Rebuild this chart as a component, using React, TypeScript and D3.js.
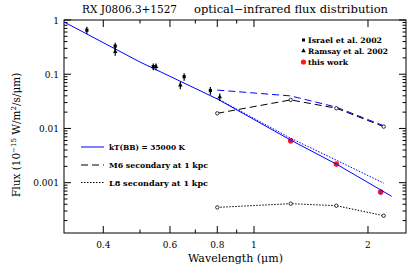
import { useEffect, useRef } from "react";
import * as d3 from "d3";

// Israel et al. 2002 (squares)
const israelLam = [0.362, 0.43, 0.542, 0.654, 0.767];
const israelFlux = [0.65, 0.33, 0.138, 0.09, 0.05];
const israelErr = [0.1, 0.05, 0.02, 0.014, 0.008];
// Ramsay et al. 2002 (triangles)
const ramsayLam = [0.43, 0.551, 0.639, 0.812];
const ramsayFlux = [0.26, 0.138, 0.063, 0.038];
const ramsayErr = [0.04, 0.02, 0.01, 0.006];
// this work
const workLam = [1.25, 1.65, 2.16];
const workFlux = [0.0059, 0.0022, 0.00067];
// blackbody kT = 35000 K
const bbLam = [0.315, 0.5, 0.8, 1.25, 1.65, 2.31];
const bbFlux = [0.92, 0.168, 0.035, 0.0061, 0.0022, 0.00056];
// secondary models at 1 kpc
const modelLam = [0.8, 1.25, 1.65, 2.2];
const m6Flux = [0.019, 0.0336, 0.0236, 0.0108];
const l8Flux = [0.00035, 0.00041, 0.000376, 0.000246];
const bbM6Flux = [0.051, 0.0398, 0.0247, 0.0112];
const bbL8Flux = [0.0355, 0.0066, 0.0026, 0.00098];

const xMajor = [0.4, 0.6, 0.8, 1, 2];
const xMinor = [0.5, 0.7, 0.9];
const yMajor = [1, 0.1, 0.01, 0.001];
const yLabels = ["1", "0.1", "0.01", "0.001"];

const FONT = "'DejaVu Serif', serif";

export default function App() {
  const ref = useRef<SVGSVGElement>(null);

  useEffect(() => {
    const svg = d3.select(ref.current);
    svg.selectAll("*").remove();

    const L = 64, R = 406, T = 20, B = 233;
    const x = d3.scaleLog().domain([0.315, 2.52]).range([L, R]);
    const y = d3.scaleLog().domain([1.18e-4, 1]).range([B, T]);

    // frame
    svg.append("rect").attr("x", L).attr("y", T).attr("width", R - L).attr("height", B - T)
      .attr("fill", "none").attr("stroke", "#000").attr("stroke-width", 1);

    // x ticks (bottom + top)
    const g = svg.append("g").attr("stroke", "#000").attr("stroke-width", 1);
    xMajor.forEach(v => {
      g.append("line").attr("x1", x(v)).attr("x2", x(v)).attr("y1", B).attr("y2", B - 7);
      g.append("line").attr("x1", x(v)).attr("x2", x(v)).attr("y1", T).attr("y2", T + 7);
    });
    xMinor.forEach(v => {
      g.append("line").attr("x1", x(v)).attr("x2", x(v)).attr("y1", B).attr("y2", B - 3.5);
      g.append("line").attr("x1", x(v)).attr("x2", x(v)).attr("y1", T).attr("y2", T + 3.5);
    });
    svg.selectAll(".xlab").data(xMajor).join("text")
      .attr("x", d => x(d)).attr("y", 248).attr("text-anchor", "middle")
      .attr("font-family", FONT).attr("font-size", 9).text(d => String(d));

    // y ticks (left + right)
    const yMinor: number[] = [];
    [1e-4, 1e-3, 1e-2, 1e-1].forEach(dec => {
      for (let k = 2; k <= 9; k++) if (dec * k >= 1.18e-4) yMinor.push(dec * k);
    });
    yMajor.forEach(v => {
      g.append("line").attr("x1", L).attr("x2", L + 7).attr("y1", y(v)).attr("y2", y(v));
      g.append("line").attr("x1", R).attr("x2", R - 7).attr("y1", y(v)).attr("y2", y(v));
    });
    yMinor.forEach(v => {
      g.append("line").attr("x1", L).attr("x2", L + 3.5).attr("y1", y(v)).attr("y2", y(v));
      g.append("line").attr("x1", R).attr("x2", R - 3.5).attr("y1", y(v)).attr("y2", y(v));
    });
    svg.selectAll(".ylab").data(yMajor).join("text")
      .attr("x", 59).attr("y", d => y(d) + 3.5).attr("text-anchor", "end")
      .attr("font-family", FONT).attr("font-size", 9).text((d, i) => yLabels[i]);

    // title and axis labels
    svg.append("text").attr("x", 82).attr("y", 13).attr("font-family", FONT).attr("font-size", 10.5)
      .attr("textLength", 95).attr("lengthAdjust", "spacingAndGlyphs")
      .text("RX J0806.3+1527");
    svg.append("text").attr("x", 194).attr("y", 13).attr("font-family", FONT).attr("font-size", 10.5)
      .attr("textLength", 194).attr("lengthAdjust", "spacingAndGlyphs")
      .text("optical\u2212infrared flux distribution");
    svg.append("text").attr("x", 188).attr("y", 262).attr("font-family", FONT).attr("font-size", 10.5)
      .attr("textLength", 95).attr("lengthAdjust", "spacingAndGlyphs")
      .text("Wavelength (\u03bcm)");
    const yl = svg.append("text").attr("transform", "translate(20,197) rotate(-90)")
      .attr("font-family", FONT).attr("font-size", 10.5);
    yl.append("tspan").text("Flux (10");
    yl.append("tspan").attr("font-size", 7).attr("dy", -4).text("\u221215");
    yl.append("tspan").attr("dy", 4).text(" W/m");
    yl.append("tspan").attr("font-size", 7).attr("dy", -4).text("2");
    yl.append("tspan").attr("dy", 4).text("/s/\u03bcm)");

    const line = d3.line<[number, number]>().x(d => x(d[0])).y(d => y(d[1]));
    const plot = svg.append("g");

    // red points of this work under the lines
    plot.selectAll(".work").data(workLam).join("circle")
      .attr("cx", d => x(d)).attr("cy", (d, i) => y(workFlux[i])).attr("r", 2.8).attr("fill", "#ff1a1a");

    const draw = (lam: number[], f: number[], color: string, dash: string | null) => {
      plot.append("path").datum(lam.map((l, i) => [l, f[i]] as [number, number]))
        .attr("d", line).attr("fill", "none").attr("stroke", color).attr("stroke-width", 1)
        .attr("stroke-dasharray", dash);
    };
    draw(bbLam, bbFlux, "#0000ff", null);
    draw(modelLam, bbM6Flux, "#0000ff", "7,4");
    draw(modelLam, bbL8Flux, "#0000ff", "1.5,1.5");
    draw(modelLam, m6Flux, "#000", "7,4");
    draw(modelLam, l8Flux, "#000", "1.5,1.5");

    // small blue markers on the red points
    plot.selectAll(".bbpt").data(workLam).join("circle")
      .attr("cx", d => x(d)).attr("cy", (d, i) => y(workFlux[i])).attr("r", 1.1).attr("fill", "#3030ff");

    [m6Flux, l8Flux].forEach(f => {
      plot.selectAll(null).data(modelLam).join("circle")
        .attr("cx", d => x(d)).attr("cy", (d, i) => y(f[i])).attr("r", 1.7)
        .attr("fill", "#fff").attr("stroke", "#000").attr("stroke-width", 0.8);
    });

    // error bars
    const errBars = (lam: number[], f: number[], e: number[]) => {
      plot.selectAll(null).data(lam).join("line")
        .attr("x1", d => x(d)).attr("x2", d => x(d))
        .attr("y1", (d, i) => y(f[i] + e[i])).attr("y2", (d, i) => y(f[i] - e[i]))
        .attr("stroke", "#000").attr("stroke-width", 1.2);
    };
    errBars(israelLam, israelFlux, israelErr);
    errBars(ramsayLam, ramsayFlux, ramsayErr);
    plot.selectAll(null).data(israelLam).join("rect")
      .attr("x", d => x(d) - 1.6).attr("y", (d, i) => y(israelFlux[i]) - 1.6)
      .attr("width", 3.2).attr("height", 3.2).attr("fill", "#000");
    const tri = d3.symbol().type(d3.symbolTriangle).size(9);
    plot.selectAll(null).data(ramsayLam).join("path")
      .attr("transform", (d, i) => `translate(${x(d)},${y(ramsayFlux[i])})`)
      .attr("d", tri()).attr("fill", "#000");

    // top-right legend
    const lg = svg.append("g").attr("font-family", FONT).attr("font-size", 7.5).attr("font-weight", "bold");
    lg.append("rect").attr("x", 302).attr("y", 38.5).attr("width", 3).attr("height", 3).attr("fill", "#000");
    lg.append("text").attr("x", 308).attr("y", 43).attr("textLength", 74).attr("lengthAdjust", "spacingAndGlyphs").text("Israel et al. 2002");
    lg.append("path").attr("transform", "translate(303.5,51)").attr("d", tri()).attr("fill", "#000");
    lg.append("text").attr("x", 308).attr("y", 54).attr("textLength", 80).attr("lengthAdjust", "spacingAndGlyphs").text("Ramsay et al. 2002");
    lg.append("circle").attr("cx", 303.5).attr("cy", 62).attr("r", 2.6).attr("fill", "#ff1a1a");
    lg.append("text").attr("x", 308).attr("y", 65).attr("textLength", 40).attr("lengthAdjust", "spacingAndGlyphs").text("this work");

    // bottom-left legend
    const lb = svg.append("g").attr("font-family", FONT).attr("font-size", 8).attr("font-weight", "bold");
    const rows: [string, string, string | null, number, number][] = [
      ["#0000ff", "kT(BB) = 35000 K", null, 147, 76],
      ["#000", "M6 secondary at 1 kpc", "7,4", 165, 99],
      ["#000", "L8 secondary at 1 kpc", "1.5,1.5", 182.5, 99],
    ];
    rows.forEach(([c, t, dash, yy, w]) => {
      lb.append("line").attr("x1", 81).attr("x2", 104).attr("y1", yy).attr("y2", yy)
        .attr("stroke", c).attr("stroke-width", 1).attr("stroke-dasharray", dash);
      lb.append("text").attr("x", 109).attr("y", yy + 3).attr("textLength", w)
        .attr("lengthAdjust", "spacingAndGlyphs").text(t);
    });
  }, []);

  return (
    <svg ref={ref} width={415} height={272}
      style={{ position: "absolute", left: 0, top: 0, background: "#fff" }} />
  );
}
